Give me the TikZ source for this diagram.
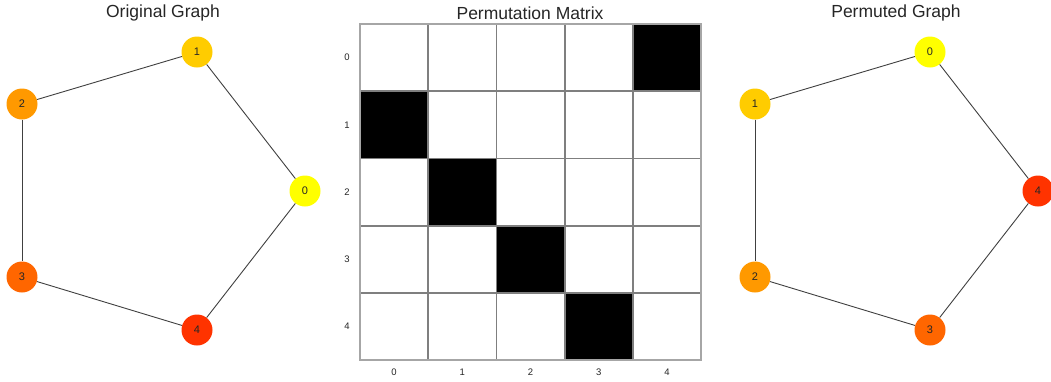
\documentclass[tikz,border=0pt]{standalone}
\usepackage{fontspec}
\setmainfont{Liberation Sans}
\definecolor{c0}{HTML}{FFFF00}
\definecolor{c1}{HTML}{FFCC00}
\definecolor{c2}{HTML}{FF9900}
\definecolor{c3}{HTML}{FF6600}
\definecolor{c4}{HTML}{FF3300}
\definecolor{edgegray}{HTML}{404040}
\definecolor{gridgray}{HTML}{7F7F7F}
\definecolor{bordergray}{HTML}{A6A6A6}
\definecolor{txt}{HTML}{262626}
\begin{document}
\begin{tikzpicture}[x=1pt,y=-1pt,
  vert/.style={circle,minimum size=31pt,inner sep=0pt,font=\fontsize{11}{12}\selectfont,text=txt},
  edge/.style={draw=edgegray,line width=0.9pt},
  ttl/.style={font=\fontsize{17.5}{20}\selectfont,text=txt},
  tick/.style={font=\fontsize{9.5}{10}\selectfont,text=txt},
  cellblk/.style={fill=black},
  gridln/.style={draw=gridgray,line width=1.8pt}]
\useasboundingbox[fill=white] (0,0) rectangle (1051,381);
% titles
\node[ttl] (t1) at (163,13) {Original Graph};
\node[ttl] (t2) at (530,13) {Permutation Matrix};
\node[ttl] (t3) at (896,13) {Permuted Graph};
% original graph
\node[vert,fill=c0] (a0) at (305,191) {0};
\node[vert,fill=c1] (a1) at (197,52) {1};
\node[vert,fill=c2] (a2) at (22,104) {2};
\node[vert,fill=c3] (a3) at (22,277) {3};
\node[vert,fill=c4] (a4) at (197,330) {4};
\draw[edge] (a1) -- (a0);
\draw[edge] (a1) -- (a2);
\draw[edge] (a2) -- (a3);
\draw[edge] (a3) -- (a4);
\draw[edge] (a4) -- (a0);
% permuted graph
\node[vert,fill=c0] (b0) at (930,52) {0};
\node[vert,fill=c1] (b1) at (755,104) {1};
\node[vert,fill=c2] (b2) at (755,277) {2};
\node[vert,fill=c3] (b3) at (930,330) {3};
\node[vert,fill=c4] (b4) at (1038,191) {4};
\draw[edge] (b0) -- (b1);
\draw[edge] (b1) -- (b2);
\draw[edge] (b2) -- (b3);
\draw[edge] (b3) -- (b4);
\draw[edge] (b4) -- (b0);
% matrix
\def\mx{360}\def\my{24}\def\cw{68.2}\def\ch{67.2}
\fill[cellblk] (\mx+4*\cw,\my+0*\ch) rectangle ++(\cw,\ch);
\fill[cellblk] (\mx+0*\cw,\my+1*\ch) rectangle ++(\cw,\ch);
\fill[cellblk] (\mx+1*\cw,\my+2*\ch) rectangle ++(\cw,\ch);
\fill[cellblk] (\mx+2*\cw,\my+3*\ch) rectangle ++(\cw,\ch);
\fill[cellblk] (\mx+3*\cw,\my+4*\ch) rectangle ++(\cw,\ch);
\foreach \i in {1,2,3,4}{
  \draw[gridln] (\mx+\i*\cw,\my) -- (\mx+\i*\cw,\my+5*\ch);
  \draw[gridln] (\mx,\my+\i*\ch) -- (\mx+5*\cw,\my+\i*\ch);
}
\draw[draw=bordergray,line width=1.3pt] (\mx,\my) rectangle (\mx+5*\cw,\my+5*\ch);
\foreach \i in {0,1,2,3,4}{
  \node[tick] (r\i) at (347,\my+\i*\ch+0.5*\ch) {\i};
  \node[tick] (c\i) at (\mx+\i*\cw+0.5*\cw,372) {\i};
}
\end{tikzpicture}
\end{document}
